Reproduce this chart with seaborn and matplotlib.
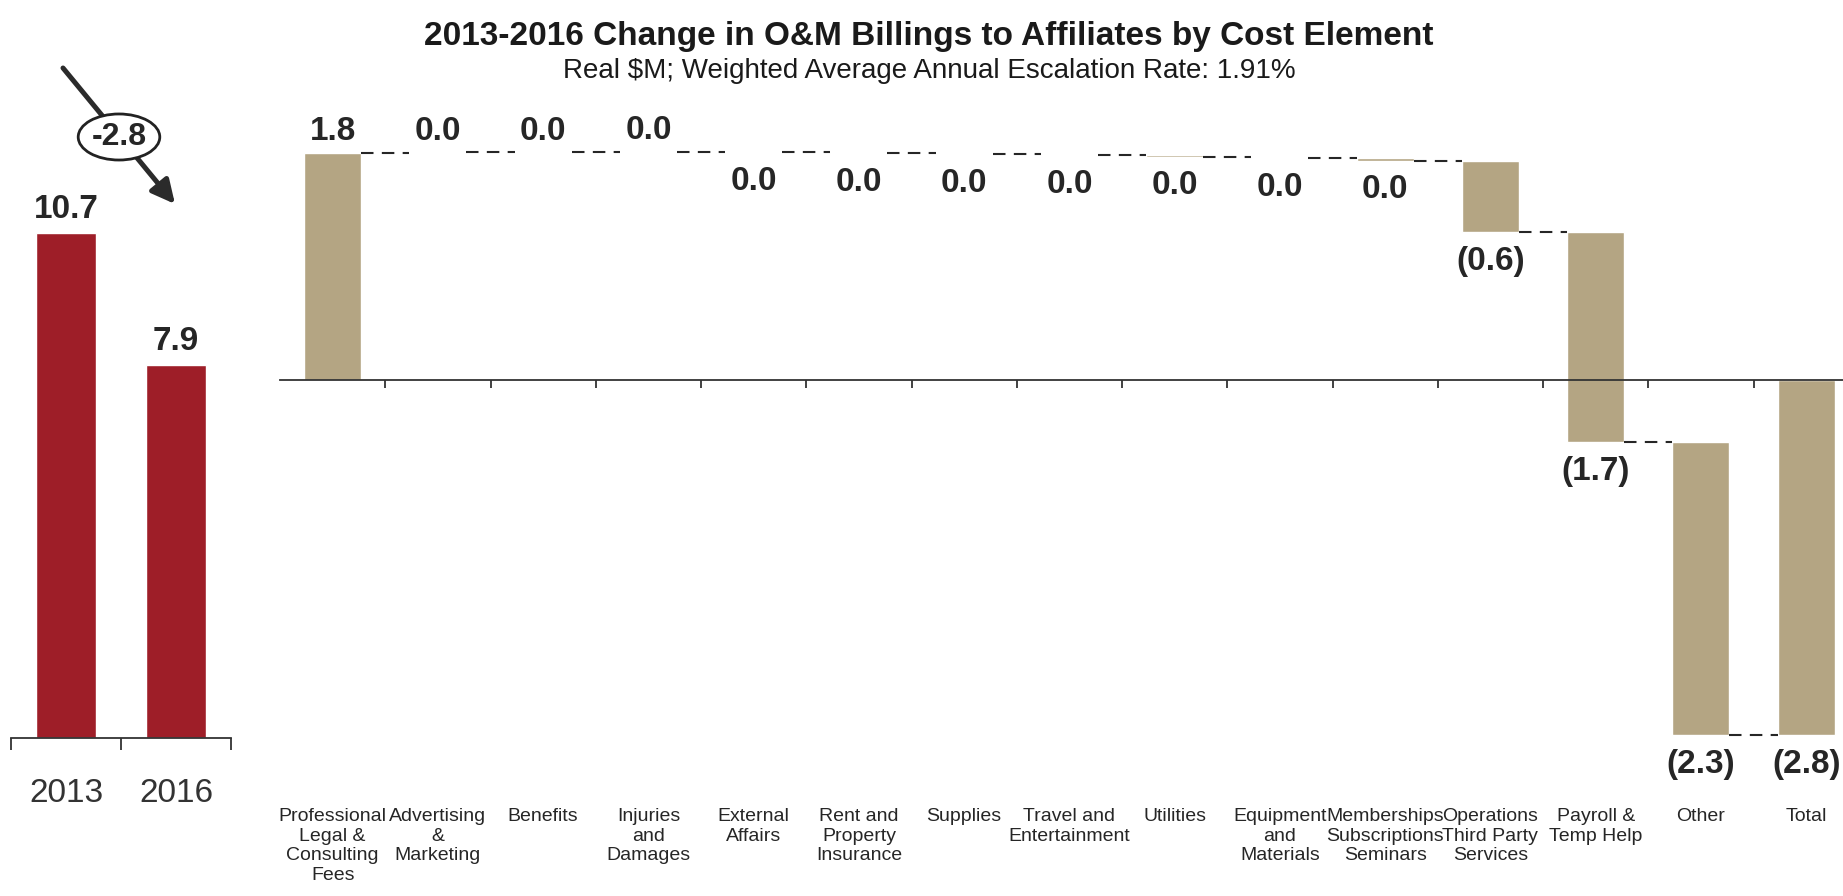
import numpy as np
import pandas as pd
import matplotlib
matplotlib.use("Agg")
import matplotlib.pyplot as plt
import seaborn as sns

# data
years = ["2013", "2016"]
billings = [10.7, 7.9]
overall_change = "-2.8"

elements = [
    "Professional\nLegal &\nConsulting\nFees", "Advertising\n&\nMarketing", "Benefits",
    "Injuries\nand\nDamages", "External\nAffairs", "Rent and\nProperty\nInsurance",
    "Supplies", "Travel and\nEntertainment", "Utilities", "Equipment\nand\nMaterials",
    "Memberships\nSubscriptions\nSeminars", "Operations\nThird Party\nServices",
    "Payroll &\nTemp Help", "Other",
]
changes = [1.79, 0.004, 0.003, 0.002, -0.004, -0.005, -0.010, -0.008, -0.010,
           -0.012, -0.020, -0.56, -1.66, -2.31]

RED = "#9E1E28"
TAN = "#B4A583"
INK = "#262626"

sns.set_style("white")
plt.rcParams["font.family"] = ["Liberation Sans", "DejaVu Sans"]

W, H = 1843, 896
fig = plt.figure(figsize=(W / 100, H / 100), dpi=100)

# waterfall table
ends = np.cumsum(changes)
starts = np.concatenate([[0], ends[:-1]])
total = ends[-1]
df = pd.DataFrame({
    "element": elements + ["Total"],
    "change": changes + [total],
    "start": list(starts) + [0.0],
})
df["end"] = df["start"] + df["change"]

# left panel: 2013 vs 2016
ax0 = fig.add_axes([11 / W, (H - 738) / H, 220 / W, 566.4 / H])
sns.barplot(x=years, y=billings, color=RED, saturation=1, width=0.55, ax=ax0)
ax0.set_xlim(-0.5, 1.5)
ax0.set_ylim(0, 12)
for i, v in enumerate(billings):
    ax0.annotate(f"{v:.1f}", (i, v), xytext=(0, 11), textcoords="offset points",
                 ha="center", va="baseline", fontsize=24, fontweight="bold", color=INK)
ax0.set_xticks([-0.5, 0.5, 1.5], labels=[])
ax0.set_xticks([0, 1], labels=years, minor=True)
ax0.tick_params(axis="x", which="major", direction="out", length=8.5, width=1.3,
                color="#333333", bottom=True)
ax0.tick_params(axis="x", which="minor", length=0, pad=29, labelsize=24,
                labelcolor="#333333", bottom=True)
ax0.set_yticks([])
ax0.set_xlabel("")
sns.despine(ax=ax0, left=True)
ax0.spines["bottom"].set_color("#333333")
ax0.spines["bottom"].set_linewidth(1.3)

# arrow with ellipse
ax0.annotate("", xy=(175 / W, (H - 204) / H), xytext=(63 / W, (H - 68) / H),
             xycoords="figure fraction", textcoords="figure fraction",
             arrowprops=dict(arrowstyle="-|>,head_length=0.7,head_width=0.35",
                             mutation_scale=20, lw=3.6, color="#2b2b2b",
                             shrinkA=0, shrinkB=0),
             annotation_clip=False, zorder=4)
ax0.annotate(overall_change, xy=(119 / W, (H - 137) / H), xycoords="figure fraction",
             ha="center", va="center", fontsize=23, fontweight="bold", color=INK,
             bbox=dict(boxstyle="ellipse,pad=0.04", fc="white", ec="#222222", lw=2),
             annotation_clip=False, zorder=5)

# right panel: waterfall
ax = fig.add_axes([280 / W, (H - 823.8) / H, 1563 / W, 722.8 / H])
bw = 0.54
sns.barplot(data=df, x="element", y="change", bottom=df["start"].to_numpy(),
            color=TAN, saturation=1, width=bw, errorbar=None, ax=ax)
ax.set_xlim(-0.5, 14.35)
ax.set_ylim(-3.5, 2.2)

# connectors
for i in range(len(df) - 1):
    ax.plot([i + bw / 2, i + 1 - bw / 2], [df["end"][i]] * 2, color=INK,
            lw=1.5, ls=(0, (6, 4)), solid_capstyle="butt")

# value labels
for i, row in df.iterrows():
    v = row["change"]
    r = round(v, 1)
    txt = f"({abs(r):.1f})" if r < 0 else f"{abs(r):.1f}"
    if v >= 0:
        ax.annotate(txt, (i, row["end"]), xytext=(0, 9), textcoords="offset points",
                    ha="center", va="baseline", fontsize=24, fontweight="bold", color=INK)
    else:
        ax.annotate(txt, (i, min(row["start"], row["end"])), xytext=(0, -10),
                    textcoords="offset points", ha="center", va="top",
                    fontsize=24, fontweight="bold", color=INK)

# category labels at the bottom
for i, lab in enumerate(df["element"]):
    ax.text(i, -3.375, lab, ha="center", va="top", fontsize=14, color=INK,
            linespacing=1.2)

ax.set_xticks(np.arange(len(df) - 1) + 0.5, labels=[])
ax.tick_params(axis="x", direction="out", length=6, width=1.3, color="#333333",
               bottom=True)
ax.set_yticks([])
ax.set_xlabel("")
ax.set_ylabel("")
sns.despine(ax=ax, left=True)
ax.spines["bottom"].set_position(("data", 0))
ax.spines["bottom"].set_color("#333333")
ax.spines["bottom"].set_linewidth(1.3)

# titles
fig.text(929 / W, (H - 36) / H, "2013-2016 Change in O&M Billings to Affiliates by Cost Element",
         ha="center", va="center", fontsize=24, fontweight="bold", color="#1a1a1a")
fig.text(929 / W, (H - 71) / H, "Real $M; Weighted Average Annual Escalation Rate: 1.91%",
         ha="center", va="center", fontsize=20, color="#1a1a1a")

fig.savefig("out.png", dpi=100)
